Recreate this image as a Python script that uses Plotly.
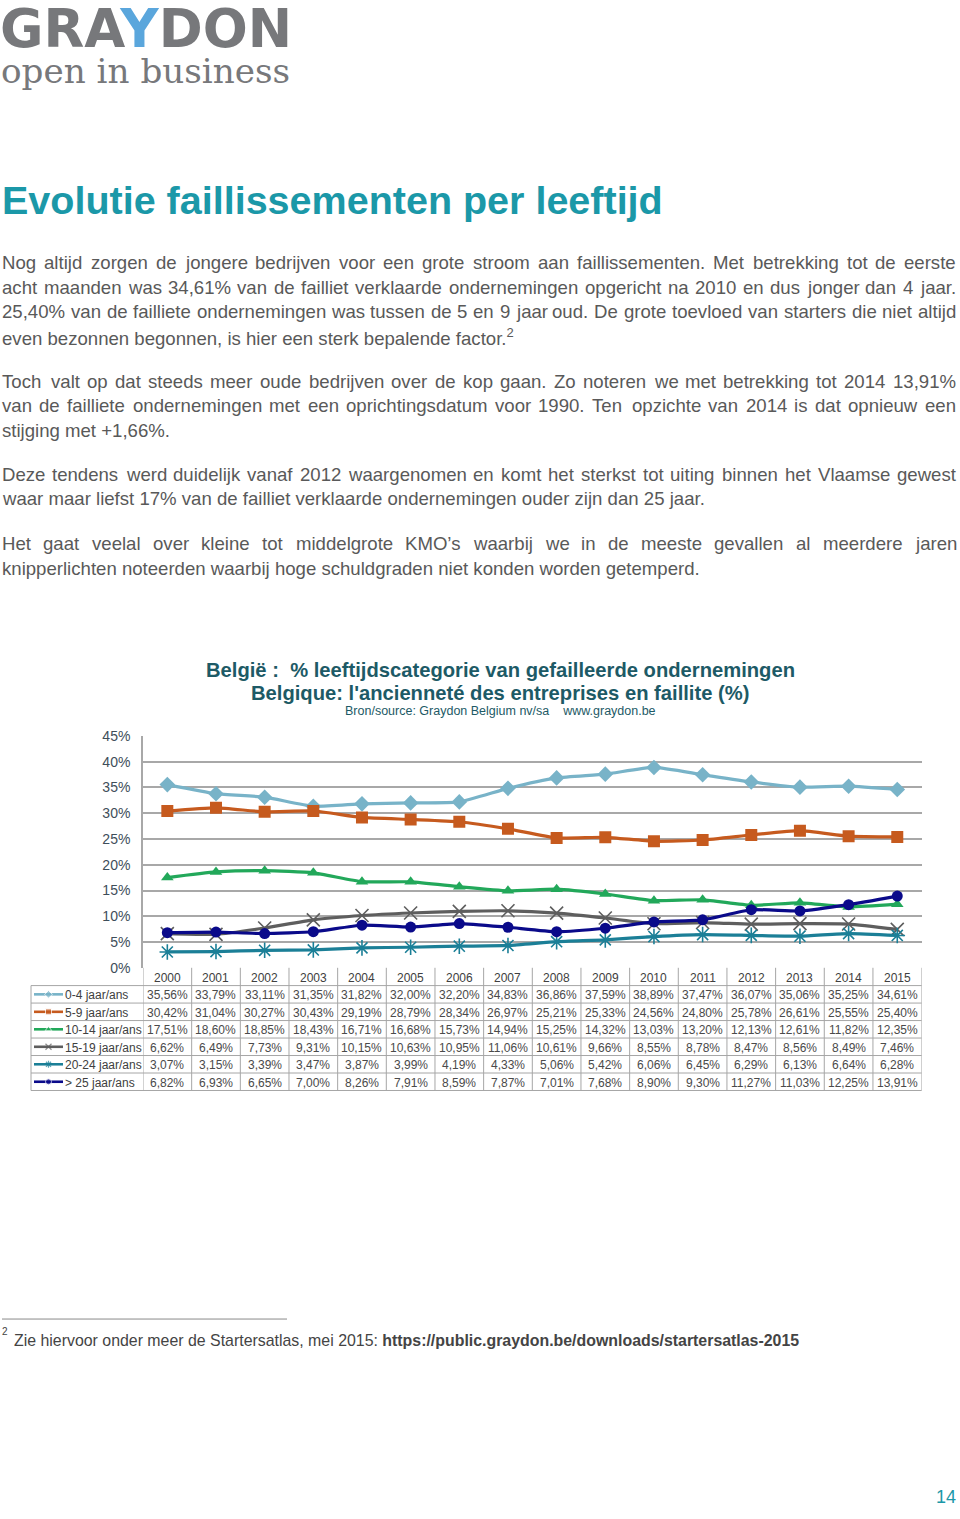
import plotly.graph_objects as go

# ---------------- data ----------------
years = [str(y) for y in range(2000, 2016)]
series_names = ["0-4 jaar/ans", "5-9 jaar/ans", "10-14 jaar/ans",
                "15-19 jaar/ans", "20-24 jaar/ans", "> 25 jaar/ans"]
age_0_4 = [35.56, 33.79, 33.11, 31.35, 31.82, 32.00, 32.20, 34.83, 36.86, 37.59, 38.89, 37.47, 36.07, 35.06, 35.25, 34.61]
age_5_9 = [30.42, 31.04, 30.27, 30.43, 29.19, 28.79, 28.34, 26.97, 25.21, 25.33, 24.56, 24.80, 25.78, 26.61, 25.55, 25.40]
age_10_14 = [17.51, 18.60, 18.85, 18.43, 16.71, 16.68, 15.73, 14.94, 15.25, 14.32, 13.03, 13.20, 12.13, 12.61, 11.82, 12.35]
age_15_19 = [6.62, 6.49, 7.73, 9.31, 10.15, 10.63, 10.95, 11.06, 10.61, 9.66, 8.55, 8.78, 8.47, 8.56, 8.49, 7.46]
age_20_24 = [3.07, 3.15, 3.39, 3.47, 3.87, 3.99, 4.19, 4.33, 5.06, 5.42, 6.06, 6.45, 6.29, 6.13, 6.64, 6.28]
age_25_plus = [6.82, 6.93, 6.65, 7.00, 8.26, 7.91, 8.59, 7.87, 7.01, 7.68, 8.90, 9.30, 11.27, 11.03, 12.25, 13.91]
y_ticks = [0, 5, 10, 15, 20, 25, 30, 35, 40, 45]

all_series = [age_0_4, age_5_9, age_10_14, age_15_19, age_20_24, age_25_plus]

# ---------------- styles ----------------
colors = ["#78b3c8", "#c65a1e", "#22a85a", "#5e5e5e", "#1b7f97", "#0a0a8a"]
symbols = ["diamond", "square", "triangle-up", "x-thin-open", "asterisk-open", "circle"]
msizes = [12, 12, 11, 13, 13, 11]

W, H = 960, 1519
def PX(x): return x / W
def PY(y): return 1 - y / H

TXT = "#595959"
FONT = "Arial, Liberation Sans, sans-serif"

fig = go.Figure()

for i, (name, vals) in enumerate(zip(series_names, all_series)):
    mk = dict(symbol=symbols[i], size=msizes[i], color=colors[i])
    if symbols[i].endswith("open"):
        mk["line"] = dict(color=colors[i], width=1.6)
    fig.add_trace(go.Scatter(
        x=years, y=vals, name=name, mode="lines+markers",
        line=dict(color=colors[i], width=3.2, shape="spline", smoothing=0.5),
        marker=mk, xaxis="x", yaxis="y", showlegend=False))

# ---- legend keys of the data table (page overlay axis) ----
row_top = 988
row_h = 17.67
for i, name in enumerate(series_names):
    yc = row_top + row_h * (i + 0.5)
    mk = dict(symbol=symbols[i], size=[0, 6, 0], color=colors[i])
    if symbols[i].endswith("open"):
        mk["line"] = dict(color=colors[i], width=1.2)
    fig.add_trace(go.Scatter(
        x=[34, 48.5, 63], y=[yc, yc, yc], mode="lines+markers",
        line=dict(color=colors[i], width=2.6), marker=mk,
        xaxis="x2", yaxis="y2", showlegend=False, hoverinfo="skip"))

x_left, x_right = 143.0, 921.6
fig.update_layout(
    width=W, height=H, margin=dict(l=0, r=0, t=0, b=0),
    paper_bgcolor="white", plot_bgcolor="rgba(0,0,0,0)",
    xaxis=dict(domain=[PX(x_left), PX(x_right)], type="category",
               range=[-0.5, 15.5], showticklabels=False, showgrid=False,
               zeroline=False, showline=False, ticks=""),
    yaxis=dict(domain=[PY(970), PY(735.7)], range=[0, 45], tickvals=y_ticks,
               ticktext=[f"{v}%" for v in y_ticks],
               showgrid=True, gridcolor="#a8a8a8", gridwidth=1.6,
               zeroline=False, showline=True, linecolor="#a8a8a8", linewidth=1.6,
               ticks="outside", ticklen=8, tickcolor="rgba(0,0,0,0)",
               tickfont=dict(family=FONT, size=14, color="#3e4e5a")),
    xaxis2=dict(domain=[0, 1], range=[0, W], visible=False, anchor="y2"),
    yaxis2=dict(domain=[0, 1], range=[H, 0], visible=False, anchor="x2"),
)

shapes = []
ann = []

# ---- data table grid ----
LC = "#a6a6a6"
table_bottom = row_top + row_h * 6
for k in range(7):
    yy = row_top + row_h * k
    shapes.append(dict(type="line", xref="paper", yref="paper",
                       x0=PX(31), x1=PX(x_right), y0=PY(yy), y1=PY(yy),
                       line=dict(color=LC, width=1)))
shapes.append(dict(type="line", xref="paper", yref="paper",
                   x0=PX(31), x1=PX(31), y0=PY(row_top), y1=PY(table_bottom),
                   line=dict(color=LC, width=1)))
for j in range(len(years) + 1):
    shapes.append(dict(type="line", xref="x", yref="paper",
                       x0=j - 0.5, x1=j - 0.5, y0=PY(970), y1=PY(table_bottom),
                       line=dict(color=LC, width=1)))

for j, yr in enumerate(years):
    ann.append(dict(x=j, y=PY(980), xref="x", yref="paper", text=yr,
                    showarrow=False, xanchor="center", yanchor="middle",
                    font=dict(family=FONT, size=12, color="#404040")))
for i, (name, vals) in enumerate(zip(series_names, all_series)):
    yc = row_top + row_h * (i + 0.5) + 1
    ann.append(dict(x=PX(63), y=PY(yc), xref="paper", yref="paper", text=name,
                    showarrow=False, xanchor="left", yanchor="middle",
                    font=dict(family=FONT, size=12, color="#404040")))
    for j, v in enumerate(vals):
        ann.append(dict(x=j, y=PY(yc), xref="x", yref="paper",
                        text=f"{v:.2f}".replace(".", ",") + "%",
                        showarrow=False, xanchor="center", yanchor="middle",
                        font=dict(family=FONT, size=12, color="#4a4a4a")))

# ---- chart titles ----
CT = "#1d5a66"
ann.append(dict(x=PX(500), y=PY(669), xref="paper", yref="paper",
                text="<b>België :  % leeftijdscategorie van gefailleerde ondernemingen</b>",
                showarrow=False, xanchor="center", yanchor="middle",
                font=dict(family=FONT, size=20.2, color=CT)))
ann.append(dict(x=PX(500), y=PY(692), xref="paper", yref="paper",
                text="<b>Belgique: l'ancienneté des entreprises en faillite (%)</b>",
                showarrow=False, xanchor="center", yanchor="middle",
                font=dict(family=FONT, size=20.2, color=CT)))
ann.append(dict(x=PX(500), y=PY(710), xref="paper", yref="paper",
                text="Bron/source: Graydon Belgium nv/sa    www.graydon.be",
                showarrow=False, xanchor="center", yanchor="middle",
                font=dict(family=FONT, size=12.5, color=CT)))

# ---- logo ----
ann.append(dict(x=PX(-2), y=PY(21), xref="paper", yref="paper",
                text="<b>GRA<span style='color:#5aa6dc'>Y</span>DON</b>",
                showarrow=False, xanchor="left", yanchor="middle",
                font=dict(family="DejaVu Sans", size=53, color="#77787b")))
ann.append(dict(x=PX(-1), y=PY(64), xref="paper", yref="paper",
                text="open in business",
                showarrow=False, xanchor="left", yanchor="middle",
                font=dict(family="DejaVu Serif", size=34.2, color="#77787b")))

# ---- page title ----
ann.append(dict(x=PX(0), y=PY(194), xref="paper", yref="paper",
                text="<b>Evolutie faillissementen per leeftijd</b>",
                showarrow=False, xanchor="left", yanchor="middle",
                font=dict(family=FONT, size=39.5, color="#1b98a8")))

# ---- body text (justified by word placement) ----
AW = {" ": 278, "%": 889, ",": 278, ".": 278, "-": 333, "+": 584, "/": 278,
      "’": 222, "'": 191, ":": 278}
for c in "0123456789": AW[c] = 556
for c, w in zip("abcdefghijklmnopqrstuvwxyz",
                [556, 556, 500, 556, 556, 278, 556, 556, 222, 222, 500, 222, 833,
                 556, 556, 556, 556, 333, 500, 278, 556, 500, 722, 500, 500, 500]):
    AW[c] = w
for c, w in zip("ABCDEFGHIJKLMNOPQRSTUVWXYZ",
                [667, 667, 722, 722, 667, 611, 778, 722, 278, 500, 667, 556, 833,
                 722, 778, 667, 778, 722, 667, 611, 722, 667, 944, 667, 667, 611]):
    AW[c] = w

BS = 18.6
def tw(s):
    return sum(AW.get(c, 556) for c in s) / 1000 * BS

L, R = 2, 956
DY = -3
body = [
    ("Nog altijd zorgen de jongere bedrijven voor een grote stroom aan faillissementen. Met betrekking tot de eerste", 260, True),
    ("acht maanden was 34,61% van de failliet verklaarde ondernemingen opgericht na 2010 en dus jonger dan 4 jaar.", 285, True),
    ("25,40% van de failliete ondernemingen was tussen de 5 en 9 jaar oud. De grote toevloed van starters die niet altijd", 310, True),
    ("even bezonnen begonnen, is hier een sterk bepalende factor.<sup>2</sup>", 335, False),
    ("Toch valt op dat steeds meer oude bedrijven over de kop gaan. Zo noteren we met betrekking tot 2014 13,91%", 380, True),
    ("van de failliete ondernemingen met een oprichtingsdatum voor 1990. Ten opzichte van 2014 is dat opnieuw een", 405, True),
    ("stijging met +1,66%.", 430, False),
    ("Deze tendens werd duidelijk vanaf 2012 waargenomen en komt het sterkst tot uiting binnen het Vlaamse gewest", 474, True),
    ("waar maar liefst 17% van de failliet verklaarde ondernemingen ouder zijn dan 25 jaar.", 499, False),
    ("Het gaat veelal over kleine tot middelgrote KMO’s waarbij we in de meeste gevallen al meerdere jaren", 544, True),
    ("knipperlichten noteerden waarbij hoge schuldgraden niet konden worden getemperd.", 569, False),
]
for text, yy, just in body:
    yy = yy + DY
    if not just:
        ann.append(dict(x=PX(L - 2), y=PY(yy), xref="paper", yref="paper", text=text,
                        showarrow=False, xanchor="left", yanchor="middle",
                        font=dict(family=FONT, size=BS, color=TXT)))
        continue
    words = text.split(" ")
    natural = sum(tw(w) for w in words)
    gap = (R - L - natural) / (len(words) - 1)
    xx = L
    for w in words:
        ann.append(dict(x=PX(xx - 2), y=PY(yy), xref="paper", yref="paper", text=w,
                        showarrow=False, xanchor="left", yanchor="middle",
                        font=dict(family=FONT, size=BS, color=TXT)))
        xx += tw(w) + gap

# ---- footnote ----
shapes.append(dict(type="line", xref="paper", yref="paper",
                   x0=PX(2), x1=PX(287), y0=PY(1325), y1=PY(1325),
                   line=dict(color="#8a8a8a", width=1)))
ann.append(dict(x=PX(0), y=PY(1338), xref="paper", yref="paper", text="2",
                showarrow=False, xanchor="left", yanchor="middle",
                font=dict(family=FONT, size=10, color="#444444")))
ann.append(dict(x=PX(12), y=PY(1347), xref="paper", yref="paper",
                text="Zie hiervoor onder meer de Startersatlas, mei 2015: <b>https://public.graydon.be/downloads/startersatlas-2015</b>",
                showarrow=False, xanchor="left", yanchor="middle",
                font=dict(family=FONT, size=15.9, color="#444444")))

# ---- page number ----
ann.append(dict(x=PX(946), y=PY(1505), xref="paper", yref="paper", text="14",
                showarrow=False, xanchor="center", yanchor="middle",
                font=dict(family=FONT, size=18, color="#1b98a8")))

fig.update_layout(shapes=shapes, annotations=ann)
fig.write_html("out.html", config={"displayModeBar": False})

# remove the default 8px page margin so the figure fills the window exactly
with open("out.html", "r", encoding="utf-8") as f:
    html = f.read()
html = html.replace("<head>", "<head><style>html,body{margin:0;padding:0;overflow:hidden;}</style>", 1)
with open("out.html", "w", encoding="utf-8") as f:
    f.write(html)
